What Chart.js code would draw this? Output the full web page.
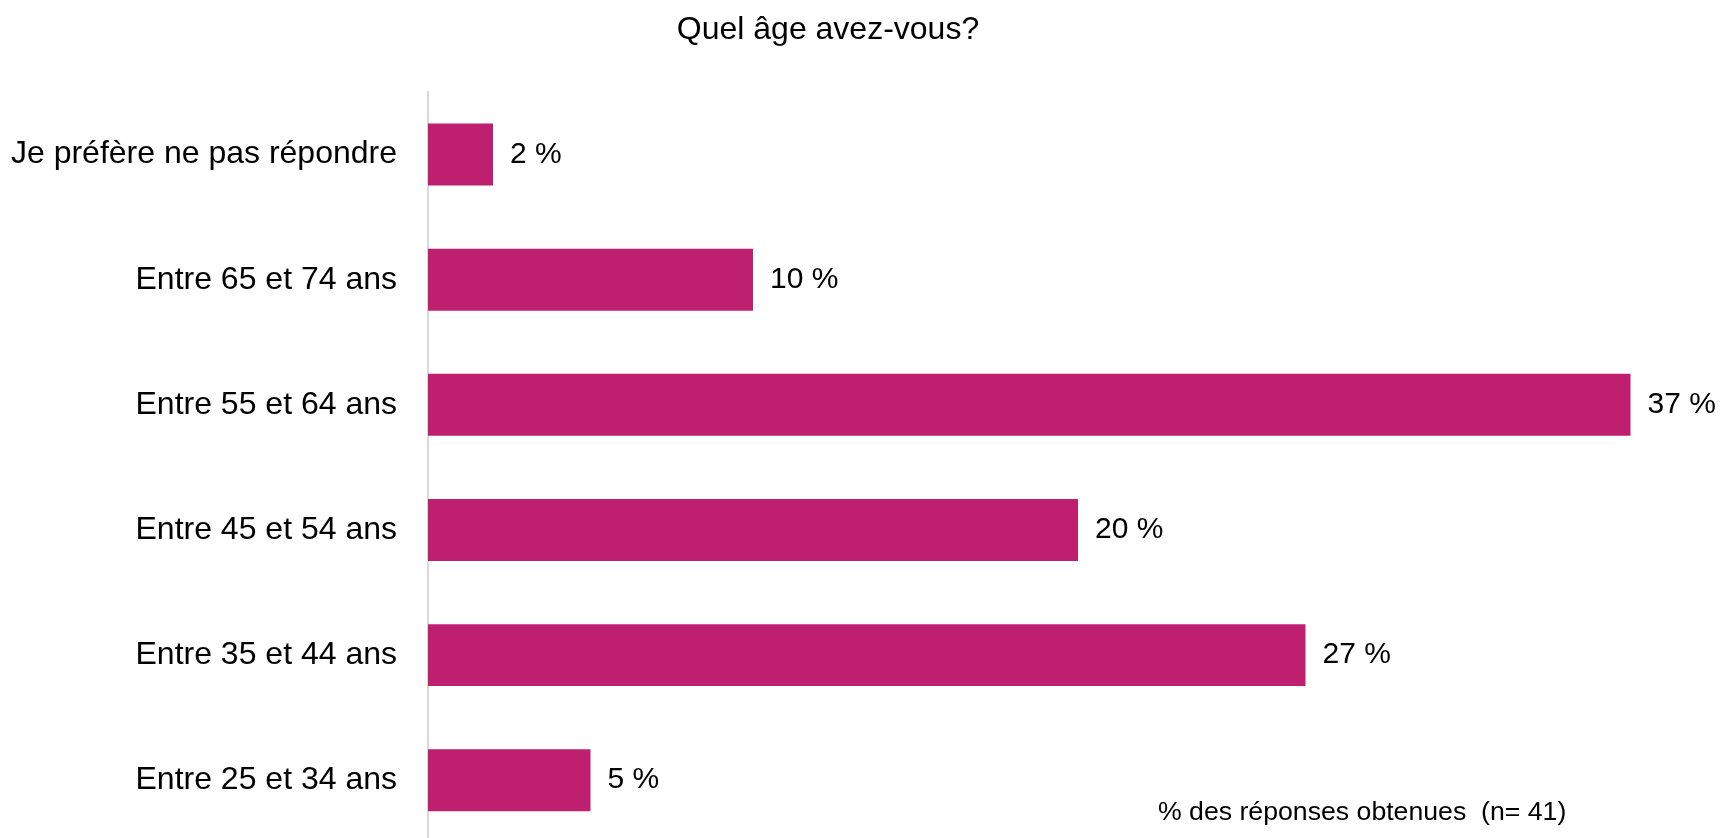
<!DOCTYPE html>
<html lang="fr">
<head>
<meta charset="utf-8">
<title>Quel âge avez-vous?</title>
<script src="https://cdn.jsdelivr.net/npm/chart.js@4/dist/chart.umd.min.js"></script>
<style>
  html, body {
    margin: 0;
    padding: 0;
    background: #ffffff;
    overflow: hidden;
  }
  /* the plot runs slightly past the bottom edge, so the canvas is taller than the frame */
  #chartWrap {
    width: 1721px;
    height: 838px;
    overflow: hidden;
  }
</style>
</head>
<body>
<div id="chartWrap">
  <canvas id="ageChart" width="1721" height="893"></canvas>
</div>
<script>
const categories = [
  'Je préfère ne pas répondre',
  'Entre 65 et 74 ans',
  'Entre 55 et 64 ans',
  'Entre 45 et 54 ans',
  'Entre 35 et 44 ans',
  'Entre 25 et 34 ans'
];
const percentages = [2, 10, 37, 20, 27, 5];

const titleText = 'Quel âge avez-vous?';
const noteText = '% des réponses obtenues  (n= 41)';

const FONT = '"Liberation Sans", Arial, sans-serif';
const BAR_COLOR = '#bf1f6f';

// title, value labels and the sample-size note are painted by hand
const annotations = {
  id: 'annotations',
  afterDatasetsDraw(chart) {
    const ctx = chart.ctx;
    ctx.save();
    ctx.fillStyle = '#000000';
    ctx.textBaseline = 'middle';

    ctx.font = '30px ' + FONT;
    ctx.textAlign = 'left';
    chart.getDatasetMeta(0).data.forEach((bar, i) => {
      ctx.fillText(percentages[i] + ' %', bar.x + 17, bar.y);
    });

    ctx.font = '32px ' + FONT;
    ctx.textAlign = 'center';
    ctx.fillText(titleText, 828, 30);

    ctx.font = '26.67px ' + FONT;
    ctx.textAlign = 'left';
    ctx.fillText(noteText, 1158, 813);
    ctx.restore();
  }
};

new Chart(document.getElementById('ageChart'), {
  type: 'bar',
  data: {
    labels: categories,
    datasets: [{
      data: percentages,
      backgroundColor: BAR_COLOR,
      borderWidth: 0,
      barPercentage: 0.495,
      categoryPercentage: 1
    }]
  },
  options: {
    indexAxis: 'y',
    responsive: false,
    animation: false,
    layout: {
      padding: { top: 92, right: 58, bottom: 3, left: 0 }
    },
    plugins: {
      legend: { display: false },
      tooltip: { enabled: false },
      title: { display: false }
    },
    scales: {
      x: {
        display: false,
        min: 0,
        max: 38
      },
      y: {
        afterFit: scale => { scale.width = 428; },
        grid: { display: false, drawTicks: false },
        border: { display: true, color: '#d9d9d9', width: 2 },
        ticks: {
          padding: 31,
          color: '#000000',
          font: { family: FONT, size: 32 }
        }
      }
    }
  },
  plugins: [annotations]
});
</script>
</body>
</html>
